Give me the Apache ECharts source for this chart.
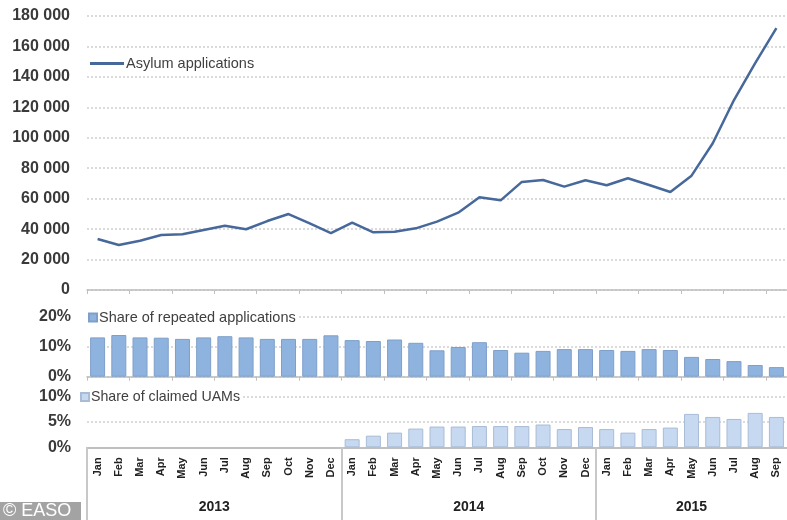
<!DOCTYPE html>
<html>
<head>
<meta charset="utf-8">
<script src="https://cdn.jsdelivr.net/npm/echarts@6/dist/echarts.min.js"></script>
<style>html,body{margin:0;padding:0;background:#fff}#c{width:787px;height:520px}</style>
</head>
<body>
<div id="c"></div>
<script>
const monthNames = ['Jan','Feb','Mar','Apr','May','Jun','Jul','Aug','Sep','Oct','Nov','Dec'];
const months = monthNames.concat(monthNames, monthNames.slice(0, 9));
const years = ['2013', '2014', '2015'];
const yearCenters = [6, 18, 28.5];
const yearBounds = [0, 12, 24];
const asylum = [33500, 29600, 32400, 36100, 36600, 39400, 42200, 39900, 45300, 49900, 43700, 37400,
                44200, 37900, 38300, 40500, 44900, 50800, 60900, 58900, 71000, 72300, 67900, 72100,
                68800, 73400, 69000, 64400, 75100, 96400, 124800, 149000, 172000];
const repeated = [13.1, 13.9, 13.1, 13.0, 12.6, 13.1, 13.5, 13.1, 12.6, 12.6, 12.6, 13.8,
                  12.2, 11.9, 12.4, 11.3, 8.8, 9.9, 11.5, 8.9, 8.0, 8.6, 9.2, 9.2,
                  8.9, 8.6, 9.2, 8.9, 6.6, 5.9, 5.2, 3.9, 3.2];
const uam = [null, null, null, null, null, null, null, null, null, null, null, null,
             1.6, 2.3, 2.9, 3.7, 4.1, 4.1, 4.2, 4.2, 4.2, 4.5, 3.6, 4.0,
             3.6, 2.9, 3.6, 3.9, 6.6, 6.0, 5.6, 6.8, 6.0];

const axisGray = '#bfbfbf';
const txt = '#3a3a3a';
const gridLine = { show: true, lineStyle: { color: '#cfcfcf', type: [2, 2], width: 1.5 } };
const yLab = { fontSize: 16, fontWeight: 'bold', color: txt, fontFamily: 'Liberation Sans' };

const chart = echarts.init(document.getElementById('c'));
chart.setOption({
  animation: false,
  textStyle: { fontFamily: 'Liberation Sans' },
  grid: [
    { left: 87, width: 703, top: 16, height: 274 },
    { left: 87, width: 703, top: 316.7, height: 60 },
    { left: 87, width: 703, top: 396.7, height: 50.6 }
  ],
  legend: [
    { data: ['Asylum applications'], left: 90, top: 56, icon: 'rect', itemWidth: 34, itemHeight: 3,
      padding: 0, itemGap: 0, textStyle: { fontSize: 14.5, color: '#404040', padding: [0, 0, 0, -3] } },
    { data: ['Share of repeated applications'], left: 86, top: 309, icon: 'rect', itemWidth: 8, itemHeight: 8,
      backgroundColor: '#fff', padding: [1, 2, 1, 2], textStyle: { fontSize: 14.5, color: '#404040', padding: [0, 0, 0, -3] } },
    { data: ['Share of claimed UAMs'], left: 78, top: 389, icon: 'rect', itemWidth: 8, itemHeight: 8,
      backgroundColor: '#fff', padding: [1, 2, 1, 2], textStyle: { fontSize: 14.2, color: '#404040', padding: [0, 0, 0, -3] } }
  ],
  xAxis: [
    { type: 'category', gridIndex: 0, data: months, boundaryGap: true,
      axisLine: { lineStyle: { color: axisGray, width: 1.5 } },
      axisTick: { show: true, length: 4, lineStyle: { color: axisGray } },
      axisLabel: { show: false }, splitLine: { show: false } },
    { type: 'category', gridIndex: 1, data: months, boundaryGap: true,
      axisLine: { lineStyle: { color: axisGray, width: 1.5 } },
      axisTick: { show: true, length: 4, lineStyle: { color: axisGray } },
      axisLabel: { show: false }, splitLine: { show: false } },
    { type: 'category', gridIndex: 2, data: months, boundaryGap: true,
      axisLine: { lineStyle: { color: axisGray, width: 2 } },
      axisTick: { show: false },
      axisLabel: { interval: 0, rotate: 90, fontSize: 11, fontWeight: 'bold', color: '#222', margin: 10 },
      splitLine: { show: false } },
    { type: 'value', gridIndex: 2, min: 0, max: 33, position: 'bottom',
      axisLine: { show: false }, splitLine: { show: false },
      axisTick: { show: true, customValues: yearBounds, length: 80, lineStyle: { color: '#c8c8c8', width: 2 } },
      axisLabel: { customValues: yearCenters, margin: 53, fontSize: 14, fontWeight: 'bold', color: '#222',
        formatter: v => years[yearCenters.indexOf(v)] } }
  ],
  yAxis: [
    { type: 'value', gridIndex: 0, min: 0, max: 180000, interval: 20000,
      axisLine: { show: false }, axisTick: { show: false }, splitLine: gridLine,
      axisLabel: Object.assign({ margin: 17, formatter: v => String(v).replace(/\B(?=(\d{3})+(?!\d))/g, ' ') }, yLab) },
    { type: 'value', gridIndex: 1, min: 0, max: 20, interval: 10,
      axisLine: { show: false }, axisTick: { show: false }, splitLine: gridLine,
      axisLabel: Object.assign({ margin: 16, formatter: '{value}%' }, yLab) },
    { type: 'value', gridIndex: 2, min: 0, max: 10, interval: 5,
      axisLine: { show: false }, axisTick: { show: false }, splitLine: gridLine,
      axisLabel: Object.assign({ margin: 16, formatter: '{value}%' }, yLab) }
  ],
  series: [
    { name: 'Asylum applications', type: 'line', xAxisIndex: 0, yAxisIndex: 0, data: asylum,
      symbol: 'none', lineStyle: { color: '#46689b', width: 2.5 }, itemStyle: { color: '#46689b' } },
    { name: 'Share of repeated applications', type: 'bar', xAxisIndex: 1, yAxisIndex: 1, data: repeated,
      barWidth: 15, itemStyle: { color: '#8fb3df', borderColor: '#7f9fc9', borderWidth: 1 } },
    { name: 'Share of claimed UAMs', type: 'bar', xAxisIndex: 2, yAxisIndex: 2, data: uam,
      barWidth: 15, itemStyle: { color: '#c6d9f1', borderColor: '#a9bcd6', borderWidth: 1 } }
  ],
  graphic: [
    { type: 'rect', left: 0, top: 502, shape: { width: 81, height: 18 }, style: { fill: '#a3a3a3' } },
    { type: 'text', left: 3, top: 502, style: { text: '© EASO', fill: '#fff', fontSize: 18, fontFamily: 'Liberation Sans' } }
  ]
});
</script>
</body>
</html>
